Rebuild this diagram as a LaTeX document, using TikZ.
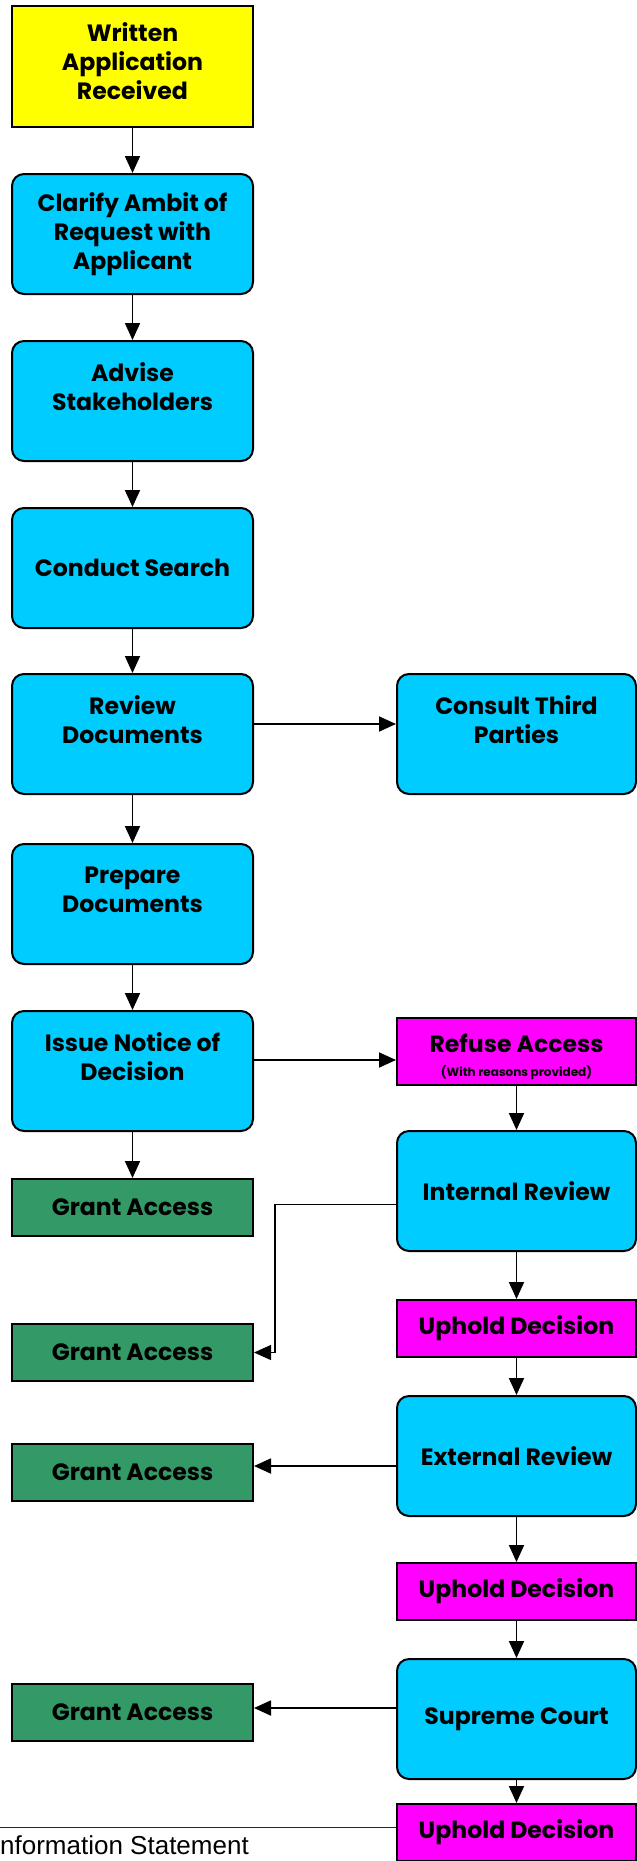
\documentclass[tikz,border=0pt]{standalone}
\usepackage{fontspec}
\setmainfont{Poppins}
\newfontfamily\footerfont{Liberation Sans}
\usetikzlibrary{arrows.meta,positioning,calc}
\definecolor{cStart}{HTML}{FFFF00}
\definecolor{cStep}{HTML}{00CCFF}
\definecolor{cRefuse}{HTML}{FF00FF}
\definecolor{cGrant}{HTML}{339966}
\definecolor{cInk}{HTML}{000000}

\begin{document}
\begin{tikzpicture}[
    font=\bfseries\fontsize{23.6}{29}\selectfont,
    >={Triangle[length=17pt,width=15pt]},
    start/.style={
        rectangle, draw=cInk, line width=2pt, fill=cStart,
        minimum width=241pt, minimum height=121pt, align=center, inner sep=2pt
    },
    stepbox/.style={
        rectangle, rounded corners=12pt, draw=cInk, line width=2pt, fill=cStep,
        minimum width=241pt, minimum height=120pt, align=center, inner sep=2pt
    },
    refuse/.style={
        rectangle, draw=cInk, line width=2pt, fill=cRefuse,
        minimum width=239pt, minimum height=57pt, align=center, inner sep=2pt
    },
    grant/.style={
        rectangle, draw=cInk, line width=2pt, fill=cGrant,
        minimum width=241pt, minimum height=57pt, align=center, inner sep=2pt
    },
    flow/.style={->, line width=1.8pt, draw=cInk},
    flowthin/.style={->, line width=1.2pt, draw=cInk},
    footrule/.style={line width=0.8pt, draw=black!85},
]
\useasboundingbox (0,0) rectangle (637pt,-1861pt);

% =====================================================
% Main column
% =====================================================

\node[start, text height=70pt, text depth=5pt] (app) at (132.5pt,-66.5pt) {Written\\Application\\Received};
\node[stepbox, below=45pt of app]     (clarify) {Clarify Ambit of\\Request with\\Applicant};
\node[stepbox, below=45pt of clarify] (advise)  {Advise\\Stakeholders\\\mbox{}};
\node[stepbox, below=45pt of advise]  (search)  {Conduct Search};
\node[stepbox, below=44pt of search]  (review)  {Review\\Documents\\\mbox{}};
\node[stepbox, below=48pt of review]  (prepare) {Prepare\\Documents\\\mbox{}};
\node[stepbox, below=45pt of prepare] (issue)   {Issue Notice of\\Decision\\\mbox{}};
\node[grant,   below=46pt of issue]   (grant1)  {Grant Access};

\draw[flow] (app)     -- (clarify);
\draw[flow] (clarify) -- (advise);
\draw[flow] (advise)  -- (search);
\draw[flow] (search)  -- (review);
\draw[flow] (review)  -- (prepare);
\draw[flow] (prepare) -- (issue);
\draw[flow] (issue)   -- (grant1);

% =====================================================
% Side branches
% =====================================================

\node[stepbox, minimum width=239pt, right=142pt of review] (consult) {Consult Third\\Parties\\\mbox{}};
\draw[flow] ($(review.east)+(0,10pt)$) coordinate (rvOut) -- (rvOut -| consult.west);

\node[refuse, minimum height=67pt, text height=53pt, text depth=4pt,
      right=142pt of issue, yshift=19.5pt] (refuseacc)
    {Refuse Access\\[-5pt]{\bfseries\fontsize{12}{14}\selectfont (With reasons provided)}};
\draw[flow] ($(issue.east)+(0,11pt)$) coordinate (isOut) -- (isOut -| refuseacc.west);

% review chain
\node[stepbox, minimum width=239pt, below=44pt of refuseacc] (internal) {Internal Review};
\node[refuse,   below=47pt of internal] (uphold1)  {Uphold Decision};
\node[stepbox, minimum width=239pt, below=37pt of uphold1]  (external) {External Review};
\node[refuse,   below=45pt of external] (uphold2)  {Uphold Decision};
\node[stepbox, minimum width=239pt, below=37pt of uphold2]  (supreme)  {Supreme Court};
\node[refuse,   below=23pt of supreme]  (uphold3)  {Uphold Decision};

\draw[flow] (refuseacc) -- (internal);
\draw[flow] (internal)  -- (uphold1);
\draw[flow] (uphold1)   -- (external);
\draw[flow] (external)  -- (uphold2);
\draw[flow] (uphold2)   -- (supreme);
\draw[flow] (supreme)   -- (uphold3);

% grant outcomes on the left
\node[grant, left=142pt of uphold1, yshift=-24pt]  (grant2) {Grant Access};
\node[grant, left=142pt of external, yshift=-16.5pt] (grant3) {Grant Access};
\node[grant, left=142pt of supreme, yshift=6.5pt]  (grant4) {Grant Access};

\draw[flowthin] ($(internal.west)+(0,-13.5pt)$) -- ++(-121pt,0) |- (grant2.east);
\draw[flow] ($(external.west)+(0,-10pt)$) coordinate (exOut) -- (exOut -| grant3.east);
\draw[flow] ($(supreme.west)+(0,11pt)$) coordinate (scOut) -- (scOut -| grant4.east);

% =====================================================
% Page footer
% =====================================================

\coordinate (footL) at (0,-1827pt);
\draw[footrule] (footL) -- (footL -| uphold3.west);
\node[anchor=base west, inner sep=0pt, font=\footerfont\fontsize{26}{30}\selectfont]
    (footer) at (0pt,-1854pt) {nformation Statement};

\end{tikzpicture}
\end{document}
